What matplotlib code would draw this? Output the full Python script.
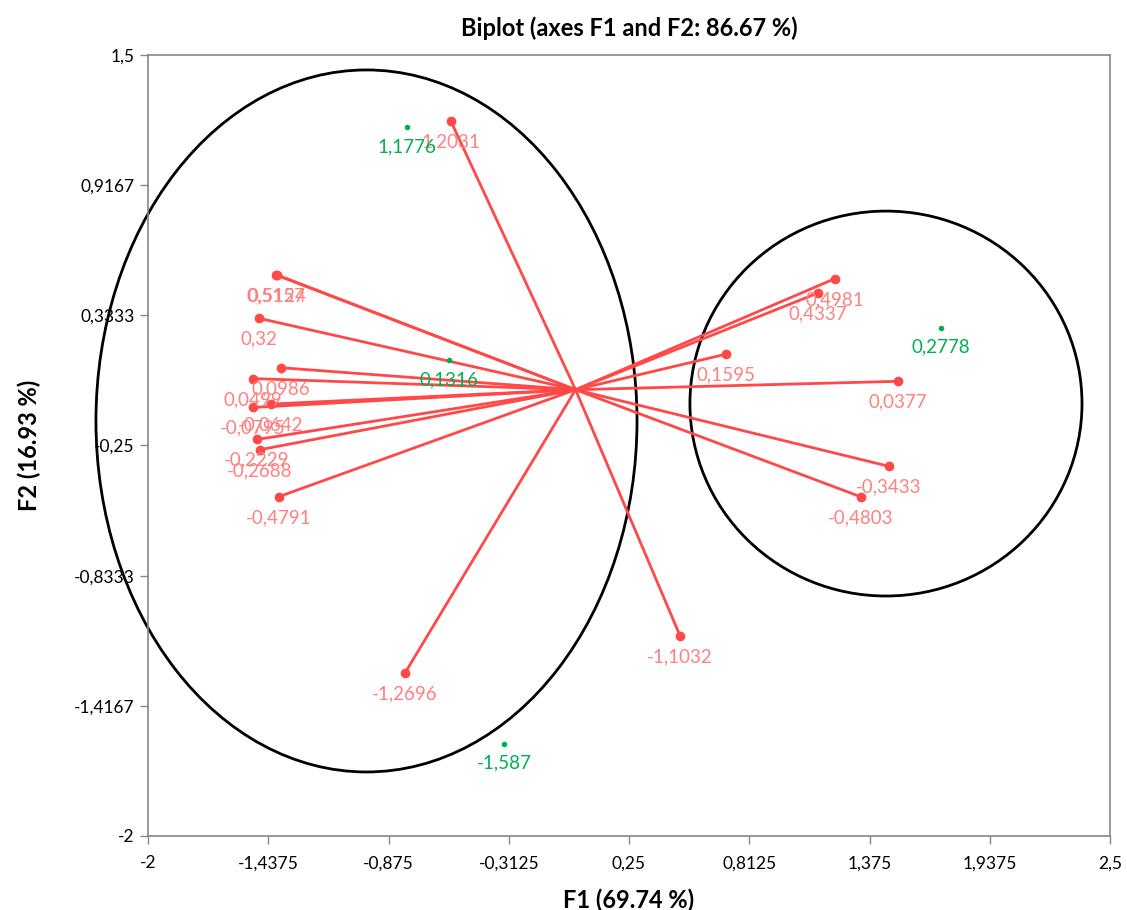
import matplotlib.pyplot as plt
from matplotlib.patches import Ellipse

plt.rcParams['font.family'] = ['Lato', 'DejaVu Sans']

# variables (vectors from origin): F1, F2 and their labels
var_x = [-0.583, -1.400, -1.395, -1.481, -1.378, -1.509, -1.425, -1.509, -1.490, -1.476,
         -1.387, -0.798, 0.489, 1.214, 1.134, 0.704, 1.508, 1.466, 1.335]
var_y = [1.2031, 0.5157, 0.5124, 0.32, 0.0986, 0.0499, -0.0642, -0.0795, -0.2229, -0.2688,
         -0.4791, -1.2696, -1.1032, 0.4981, 0.4337, 0.1595, 0.0377, -0.3433, -0.4803]
var_labels = ['1,2031', '0,5157', '0,5124', '0,32', '0,0986', '0,0499', '-0,0642', '-0,0795',
              '-0,2229', '-0,2688', '-0,4791', '-1,2696', '-1,1032', '0,4981', '0,4337',
              '0,1595', '0,0377', '-0,3433', '-0,4803']

# observations
obs_x = [-0.788, -0.592, -0.335, 1.709]
obs_y = [1.1776, 0.1316, -1.587, 0.2778]
obs_labels = ['1,1776', '0,1316', '-1,587', '0,2778']

# grouping ellipses: centre x, centre y, width, height
ell_left = (-0.978, -0.140, 2.531, 3.146)
ell_right = (1.452, -0.062, 1.834, 1.725)

xticks = [-2, -1.4375, -0.875, -0.3125, 0.25, 0.8125, 1.375, 1.9375, 2.5]
xtick_labels = ['-2', '-1,4375', '-0,875', '-0,3125', '0,25', '0,8125', '1,375', '1,9375', '2,5']
yticks = [1.5, 0.9167, 0.3333, -0.25, -0.8333, -1.4167, -2]
ytick_labels = ['1,5', '0,9167', '0,3333', '-0,25', '-0,8333', '-1,4167', '-2']

fig = plt.figure(figsize=(11.27, 9.10), dpi=100)
ax = fig.add_axes([148 / 1127, 1 - 836 / 910, 962 / 1127, 781 / 910])

red = '#FF4848'
for x, y, lab in zip(var_x, var_y, var_labels):
    ax.plot([0, x], [0, y], color=red, linewidth=2, zorder=3)
    ax.plot(x, y, 'o', color=red, markersize=6, zorder=4)
    ax.annotate(lab, (x, y), xytext=(0, -15), textcoords='offset points',
                ha='center', va='center', color='#FF8080', fontsize=13.5, zorder=5)

green = '#00B050'
ax.plot(obs_x, obs_y, 'o', color=green, markersize=3, zorder=4)
for x, y, lab in zip(obs_x, obs_y, obs_labels):
    ax.annotate(lab, (x, y), xytext=(0, -14), textcoords='offset points',
                ha='center', va='center', color=green, fontsize=13.5, zorder=5)

for cx, cy, w, h in [ell_left, ell_right]:
    ax.add_patch(Ellipse((cx, cy), w, h, fill=False, edgecolor='black',
                         linewidth=2, clip_on=False, zorder=2))

ax.set_xlim(-2, 2.5)
ax.set_ylim(-2, 1.5)
ax.set_xticks(xticks)
ax.set_xticklabels(xtick_labels)
ax.set_yticks(yticks)
ax.set_yticklabels(ytick_labels)
ax.tick_params(colors='#868686', labelcolor='black', labelsize=12.5, length=6, width=1)
ax.tick_params(axis='x', pad=8)
for s in ax.spines.values():
    s.set_color('#868686')
    s.set_linewidth(1.2)

ax.set_title('Biplot (axes F1 and F2: 86.67 %)', fontsize=17, fontweight='bold', pad=14)
ax.set_xlabel('F1 (69.74 %)', fontsize=17, fontweight='bold', labelpad=12)
ax.set_ylabel('F2 (16.93 %)', fontsize=17, fontweight='bold', labelpad=24)

fig.savefig('out.png', dpi=100)
